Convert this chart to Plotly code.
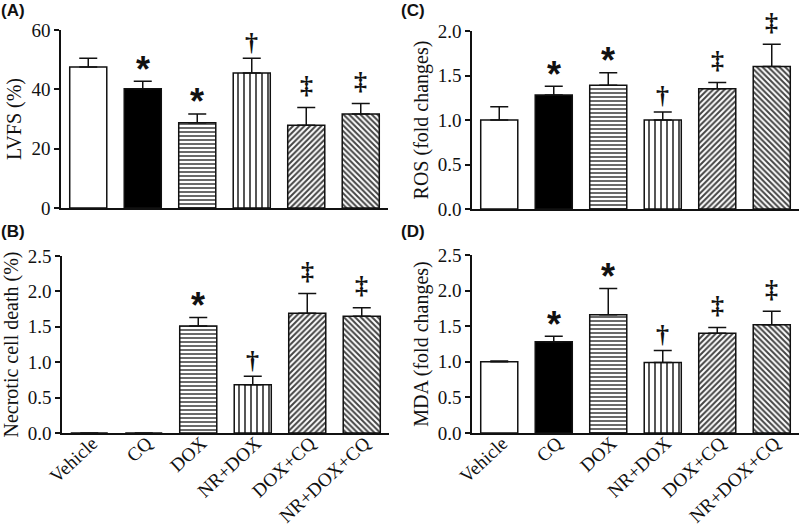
import plotly.graph_objects as go

groups = ["Vehicle", "CQ", "DOX", "NR+DOX", "DOX+CQ", "NR+DOX+CQ"]

lvfs_mean = [47.5, 40.2, 28.7, 45.5, 27.9, 31.7]
lvfs_err = [3.0, 2.5, 3.0, 5.0, 6.0, 3.5]
lvfs_marks = ["", "*", "*", "†", "‡", "‡"]

necro_mean = [0.0, 0.0, 1.51, 0.68, 1.69, 1.65]
necro_err = [0.0, 0.0, 0.12, 0.12, 0.28, 0.12]
necro_marks = ["", "", "*", "†", "‡", "‡"]

ros_mean = [1.0, 1.28, 1.39, 1.0, 1.35, 1.6]
ros_err = [0.15, 0.1, 0.14, 0.09, 0.07, 0.25]
ros_marks = ["", "*", "*", "†", "‡", "‡"]

mda_mean = [1.0, 1.28, 1.66, 0.99, 1.4, 1.52]
mda_err = [0.01, 0.08, 0.37, 0.17, 0.08, 0.19]
mda_marks = ["", "*", "*", "†", "‡", "‡"]

fill_colors = ["white", "black", "white", "white", "white", "white"]
pattern_shapes = ["", "", "-", "|", "/", "\\"]
pattern_sizes = [4, 4, 4, 6, 4, 4]
pattern_solid = [0.4, 0.4, 0.4, 0.3, 0.5, 0.5]

INK = "#111111"
SERIF = "Liberation Serif"

panels = [
    ("A", lvfs_mean, lvfs_err, lvfs_marks, "LVFS (%)", [0, 60], 20, ",d",
     [61 / 800, 388 / 800], [1 - 208 / 524, 1 - 30 / 524], False),
    ("B", necro_mean, necro_err, necro_marks, "Necrotic cell death (%)", [0, 2.5], 0.5, ".1f",
     [62 / 800, 389 / 800], [1 - 433 / 524, 1 - 256 / 524], True),
    ("C", ros_mean, ros_err, ros_marks, "ROS (fold changes)", [0, 2.0], 0.5, ".1f",
     [472 / 800, 799 / 800], [1 - 209 / 524, 1 - 31 / 524], False),
    ("D", mda_mean, mda_err, mda_marks, "MDA (fold changes)", [0, 2.5], 0.5, ".1f",
     [472 / 800, 799 / 800], [1 - 433 / 524, 1 - 255 / 524], True),
]

letter_pos = {"A": (0.0, 1.0), "B": (0.0, 1 - 221 / 524), "C": (0.5, 1.0), "D": (0.5, 1 - 221 / 524)}

fig = go.Figure()
annotations = []
layout = {}

mark_style = {
    "*": dict(family="Liberation Sans", size=36, weight="bold", shift=12),
    "†": dict(family=SERIF, size=26, weight="bold", shift=16),
    "‡": dict(family=SERIF, size=26, weight="bold", shift=22),
}

for i, (key, means, errs, marks, ytitle, yrange, dtick, tfmt, xdom, ydom, showx) in enumerate(panels):
    n = i + 1
    xa = "x" if n == 1 else f"x{n}"
    ya = "y" if n == 1 else f"y{n}"
    fig.add_trace(go.Bar(
        x=list(range(len(groups))),
        y=means,
        xaxis=xa,
        yaxis=ya,
        marker=dict(
            color=fill_colors,
            line=dict(color=INK, width=1.5),
            pattern=dict(shape=pattern_shapes, fgcolor=INK, bgcolor="white", fgopacity=1,
                         size=pattern_sizes, solidity=pattern_solid, fillmode="overlay"),
        ),
        error_y=dict(type="data", symmetric=False, array=errs,
                     arrayminus=[0] * len(errs), color=INK, thickness=1.5, width=9),
        showlegend=False,
        hoverinfo="skip",
    ))
    layout["xaxis" if n == 1 else f"xaxis{n}"] = dict(
        domain=xdom, anchor=ya, range=[-0.5, 5.5], automargin=False,
        tickmode="array", tickvals=list(range(len(groups))),
        ticktext=groups if showx else [""] * len(groups),
        showticklabels=showx, tickangle=-43, ticks="",
        ticklabelstandoff=-10, ticklabelshift=3,
        showline=True, linecolor=INK, linewidth=1.5, showgrid=False, zeroline=False,
        tickfont=dict(family=SERIF, size=19, color=INK), fixedrange=True,
    )
    layout["yaxis" if n == 1 else f"yaxis{n}"] = dict(
        domain=ydom, anchor=xa, range=yrange, dtick=dtick, tick0=0, tickformat=tfmt,
        automargin=False,
        showline=True, linecolor=INK, linewidth=1.5, showgrid=False, zeroline=False,
        ticks="outside", ticklen=5, tickwidth=1.5, tickcolor=INK,
        tickfont=dict(family=SERIF, size=19, color=INK),
        title=dict(text=ytitle, font=dict(family=SERIF, size=20, color=INK), standoff=4),
        fixedrange=True,
    )
    for j, m in enumerate(marks):
        if not m:
            continue
        st = mark_style[m]
        annotations.append(dict(
            x=j, y=means[j] + errs[j], xref=xa, yref=ya, text=m, showarrow=False,
            yanchor="middle", yshift=st["shift"],
            font=dict(family=st["family"], size=st["size"], color=INK, weight=st["weight"]),
        ))
    lx, ly = letter_pos[key]
    annotations.append(dict(
        x=lx, y=ly, xref="paper", yref="paper", xanchor="left", yanchor="top",
        text=f"({key})", showarrow=False, borderpad=0,
        font=dict(family="Liberation Sans", size=17, color=INK, weight="bold"),
    ))

fig.update_layout(
    width=800, height=524,
    margin=dict(l=0, r=0, t=0, b=0, pad=0, autoexpand=False),
    paper_bgcolor="white", plot_bgcolor="white",
    bargap=0.32,
    annotations=annotations,
    **layout,
)

fig.write_html("out.html", config={"displayModeBar": False},
               post_script="document.body.style.margin='0';")
